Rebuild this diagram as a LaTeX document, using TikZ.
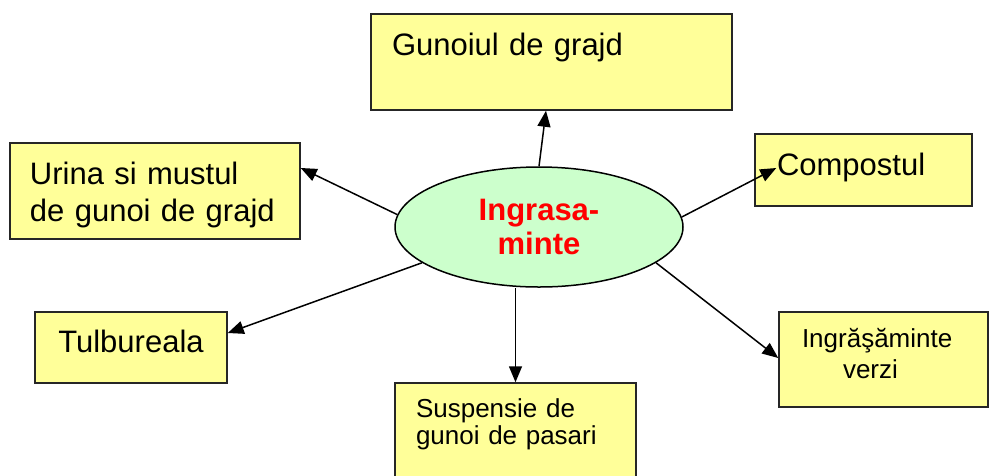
\documentclass[tikz,border=0pt]{standalone}
\usepackage{fontspec}
\setmainfont{Liberation Sans}
\usepackage{xcolor}
\usepackage{tikz}
\usetikzlibrary{shapes,arrows.meta,positioning,calc}
\definecolor{boxyellow}{HTML}{FFFF99}
\definecolor{ellgreen}{HTML}{CCFFCC}
\tikzstyle{item} = [rectangle, draw=black!85, line width=1.5pt, fill=boxyellow, inner ysep=0pt, align=left, font=\fontsize{31}{37}\selectfont]

\begin{document}
\begin{tikzpicture}[x=1pt, y=-1pt]
    \tikzstyle{centre} = [ellipse, draw, line width=1.5pt, fill=ellgreen, minimum width=288pt, minimum height=120pt, inner sep=0pt, align=center, text=red, font=\fontsize{31}{34}\selectfont\bfseries]
    \tikzstyle{link} = [line width=1.5pt, -{Triangle[length=16pt,width=13pt]}]
    \useasboundingbox (0,0) rectangle (989,475);
    \node[item, minimum width=361pt, minimum height=96pt, inner xsep=21pt, text width=319pt, text height=41pt, text depth=55pt] (gun) at (551.5,62) {Gunoiul de grajd};
    \node[item, minimum width=290pt, minimum height=96pt, inner xsep=20pt, text width=250pt, text height=41pt, text depth=55pt] (uri) at (155,191) {Urina si mustul\\de gunoi de grajd};
    \node[item, minimum width=217pt, minimum height=72pt, inner xsep=22pt, text width=173pt, text height=41pt, text depth=31pt] (com) at (863.5,170) {Compostul};
    \node[item, align=center, minimum width=192pt, minimum height=71pt, inner xsep=10pt, text width=172pt, text height=40pt, text depth=31pt] (tul) at (131,347.5) {Tulbureala};
    \node[item, font=\fontsize{26}{31}\selectfont, minimum width=209pt, minimum height=95pt, inner xsep=23pt, text width=163pt, text height=35pt, text depth=60pt] (ver) at (883.5,359.5) {Ingrăşăminte\\\hspace*{41pt}verzi};
    \node[item, font=\fontsize{26}{27}\selectfont, minimum width=241pt, minimum height=94pt, inner xsep=21pt, text width=199pt, text height=34pt, text depth=60pt] (sus) at (515.5,430) {Suspensie de\\gunoi de pasari};
    \node[centre] (ing) at (539,227) {Ingrasa-\\minte};
    % arrows out of the centre
    \draw[link] (ing.north) -- ([xshift=-5.5pt]gun.south);
    \draw[link] (ing.175) -- ([yshift=23pt]uri.east);
    \draw[link] (ing.197) -- ([yshift=14.5pt]tul.east);
    \draw[link] (ing.4) -- ([xshift=22pt,yshift=2pt]com.west);
    \draw[link] (ing.-17) -- ([yshift=1.5pt]ver.west);
    \draw[link] (sus.north |- ing.south) -- (sus.north);
\end{tikzpicture}
\end{document}
